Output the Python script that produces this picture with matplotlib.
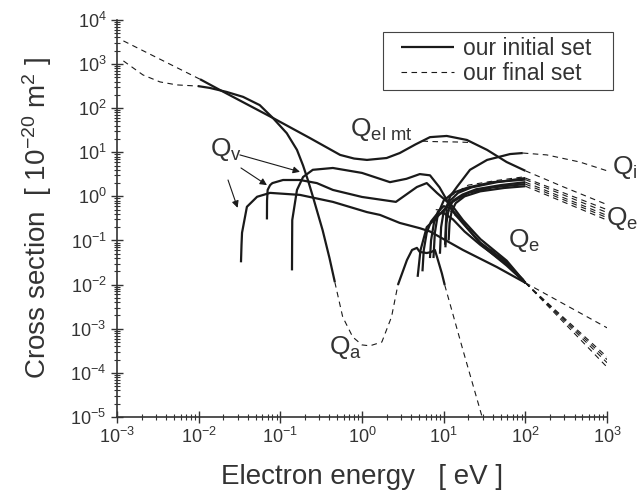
import matplotlib
matplotlib.use('Agg')
import matplotlib.pyplot as plt
from matplotlib.patches import Rectangle

plt.rcParams['font.family'] = ['Liberation Sans', 'DejaVu Sans']
plt.rcParams['mathtext.fontset'] = 'custom'
plt.rcParams['mathtext.rm'] = 'Liberation Sans'
plt.rcParams['mathtext.it'] = 'Liberation Sans:italic'
plt.rcParams['mathtext.bf'] = 'Liberation Sans:bold'

TXT = '#333333'
LC = '#1a1a1a'

# ---- data (energy in eV, cross section in 1e-20 m^2) ----
# elastic momentum transfer
qm_x = [0.0104, 0.018, 0.081, 0.23, 0.54, 0.8, 1.15, 2.0, 2.9, 4.5, 6.8, 10.9, 19.2, 34, 59, 100]
qm_y = [452, 261, 60, 21, 8.7, 7.2, 6.7, 7.4, 9.6, 15, 22, 23.4, 19, 11.3, 6.0, 3.8]
qm_lo_x = [0.0012, 0.0104]
qm_lo_y = [3340, 452]
qm_mid_x = [5.5, 7, 9, 12, 16, 20, 23]
qm_mid_y = [17.9, 17.5, 17.3, 17.2, 17.0, 16.7, 16.1]
qm_hi_x = [100, 290, 1000]
qm_hi_y = [3.8, 1.65, 0.65]

# attachment
qa_x = [0.0098, 0.0137, 0.022, 0.035, 0.056, 0.081, 0.12, 0.16, 0.19, 0.22, 0.25, 0.33, 0.40, 0.465]
qa_y = [316, 287, 233, 180, 117, 60, 27, 11.3, 5.0, 2.2, 1.0, 0.17, 0.04, 0.0114]
qa2_x = [2.75, 3.55, 4.1, 4.7, 5.1, 6.2, 7.1, 7.8, 8.3, 9.5, 10.3]
qa2_y = [0.0098, 0.036, 0.061, 0.068, 0.055, 0.052, 0.055, 0.061, 0.042, 0.018, 0.0098]
qa_lo_x = [0.0012, 0.00208, 0.00336, 0.0054, 0.0098]
qa_lo_y = [1175, 566, 393, 336, 316]
qa_mid_x = [0.465, 0.58, 0.77, 1.0, 1.25, 1.75, 2.3, 2.75]
qa_mid_y = [0.0114, 1.86e-3, 6.5e-4, 4.3e-4, 4.1e-4, 5e-4, 1.86e-3, 0.0098]
qa_hi_x = [10.3, 17.2, 32]
qa_hi_y = [0.0098, 3.3e-4, 6e-6]

# vibrational excitation
qv1_x = [0.033, 0.0335, 0.034, 0.039, 0.052, 0.075, 0.174, 0.44, 1.15, 1.66, 2.9, 5.1, 6.8, 17.2, 44.8, 100]
qv1_y = [0.032, 0.08, 0.15, 0.58, 0.98, 1.2, 1.08, 0.75, 0.44, 0.38, 0.25, 0.19, 0.16, 0.061, 0.025, 0.011]
qv2_x = [0.0686, 0.0688, 0.070, 0.075, 0.08, 0.108, 0.174, 0.28, 0.44, 1.0, 2.6, 4.7, 6.2, 8.3, 13, 17.2, 27.7, 59, 100]
qv2_y = [0.3, 0.8, 1.4, 1.8, 2.0, 2.35, 2.35, 2.0, 1.4, 0.97, 0.75, 1.63, 2.0, 1.19, 0.58, 0.29, 0.11, 0.035, 0.011]
qv3_x = [0.139, 0.1395, 0.14, 0.16, 0.19, 0.25, 0.44, 1.0, 2.2, 3.5, 5.1, 6.8, 8.9, 10.9, 13, 17, 28, 59, 100]
qv3_y = [0.021, 0.1, 0.29, 1.4, 2.75, 4.0, 4.4, 3.4, 2.1, 2.5, 3.2, 3.0, 1.6, 0.83, 0.45, 0.25, 0.09, 0.032, 0.011]

# electronic excitation, peaked
qe1_x = [5.5, 5.7, 6.2, 7.0, 8.3, 10.0, 13, 18, 28, 59, 100]
qe1_y = [0.02, 0.06, 0.15, 0.27, 0.4, 0.42, 0.3, 0.16, 0.08, 0.029, 0.011]
qe2_x = [6.8, 7.0, 7.6, 8.5, 10, 12, 15, 20, 30, 59, 100]
qe2_y = [0.04, 0.1, 0.25, 0.45, 0.6, 0.55, 0.35, 0.18, 0.075, 0.027, 0.011]

# electronic excitation, rising
qr1_x = [4.8, 5.2, 6.2, 8.3, 12, 20, 40, 100]
qr1_y = [0.015, 0.06, 0.2, 0.34, 0.7, 1.2, 1.6, 1.9]
qr2_x = [7.5, 7.8, 8.5, 10, 13, 20, 40, 100]
qr2_y = [0.04, 0.15, 0.4, 0.8, 1.2, 1.6, 2.1, 2.4]
qr3_x = [9.0, 9.3, 10, 12, 15, 22, 45, 100]
qr3_y = [0.05, 0.2, 0.45, 0.8, 1.2, 1.6, 2.1, 2.6]
qr4_x = [10.5, 10.8, 11.5, 13, 17, 25, 50, 100]
qr4_y = [0.07, 0.25, 0.5, 0.8, 1.1, 1.45, 1.8, 2.1]
qr5_x = [11.5, 11.8, 12.5, 14, 18, 28, 55, 100]
qr5_y = [0.1, 0.25, 0.45, 0.7, 1.0, 1.3, 1.55, 1.7]
qr_end = [1.9, 2.4, 2.6, 2.1, 1.7]
qr_far = [0.33, 0.43, 0.5, 0.37, 0.29]
qr_fin_x = [12, 20, 45, 100]
qr_fin_y = [1.0, 1.8, 2.3, 2.8]
qd_fin_x = [8, 12, 20, 40, 100]
qd_fin_y = [0.5, 0.47, 0.2, 0.06, 0.012]

# ionization
qi_x = [10.4, 10.6, 10.9, 12, 14.5, 21, 34, 65, 93]
qi_y = [0.08, 0.2, 0.58, 1.0, 1.63, 4.0, 6.7, 9.1, 9.6]
qi_hi_x = [93, 183, 465, 1000]
qi_hi_y = [9.6, 8.7, 6.0, 3.8]

# tails of the converging curves at 1000 eV
tail_conv = 0.011
tail_far = [1.05e-3, 2.3e-4, 1.35e-4, 1.7e-4, 2.0e-4]

fig = plt.figure(figsize=(6.39, 4.97), dpi=100)
ax = fig.add_axes([0.183, 0.161, 0.767, 0.799])

solid = dict(color=LC, lw=1.6, solid_capstyle='butt', solid_joinstyle='round')
dash = dict(color=LC, lw=0.8, dashes=(5, 4))

for x, y in [(qm_x, qm_y), (qa_x, qa_y), (qa2_x, qa2_y), (qv1_x, qv1_y),
             (qv2_x, qv2_y), (qv3_x, qv3_y), (qe1_x, qe1_y), (qe2_x, qe2_y),
             (qr1_x, qr1_y), (qr2_x, qr2_y), (qr3_x, qr3_y), (qr4_x, qr4_y),
             (qr5_x, qr5_y), (qi_x, qi_y)]:
    ax.plot(x, y, **solid)

for x, y in [(qm_lo_x, qm_lo_y), (qm_mid_x, qm_mid_y), (qm_hi_x, qm_hi_y),
             (qa_lo_x, qa_lo_y), (qa_mid_x, qa_mid_y), (qa_hi_x, qa_hi_y),
             (qi_hi_x, qi_hi_y), (qr_fin_x, qr_fin_y), (qd_fin_x, qd_fin_y)]:
    ax.plot(x, y, **dash)

for a, b in zip(qr_end, qr_far):
    ax.plot([100, 1000], [a, b], **dash)
for b in tail_far:
    ax.plot([100, 1000], [tail_conv, b], **dash)

# legend handles
ax.plot([], [], label='our initial set', **solid)
ax.plot([], [], label='our final set', **dash)

ax.set_xscale('log')
ax.set_yscale('log')
ax.set_xlim(1e-3, 1e3)
ax.set_ylim(1e-5, 1e4)

for s in ['top', 'right']:
    ax.spines[s].set_visible(False)
for s in ['left', 'bottom']:
    ax.spines[s].set_linewidth(1.2)
    ax.spines[s].set_color(TXT)

ax.tick_params(axis='both', which='major', direction='inout', length=8, width=1.0,
               labelsize=13, labelcolor=TXT, color=TXT)
ax.tick_params(axis='both', which='minor', direction='inout', length=4, width=0.8, color=TXT)
ax.yaxis.set_major_locator(matplotlib.ticker.LogLocator(base=10, numticks=20))
ax.yaxis.set_minor_locator(matplotlib.ticker.LogLocator(base=10, subs=range(2, 10), numticks=20))
ax.xaxis.set_minor_locator(matplotlib.ticker.LogLocator(base=10, subs=range(2, 10), numticks=20))

ax.set_xlabel('Electron energy   [ eV ]', fontsize=20, color=TXT, labelpad=12)
ax.set_ylabel(r'Cross section  [ 10$^{-20}$ m$^{2}$ ]', fontsize=20, color=TXT, labelpad=12)

# legend box drawn separately so its padding can match the original
box = Rectangle((383 / 639, 1 - 90 / 497), 230 / 639, 58 / 497, transform=fig.transFigure,
                facecolor='none', edgecolor='#444444', lw=0.8, zorder=5)
fig.add_artist(box)
leg = ax.legend(loc='upper left', bbox_to_anchor=(401 / 639, 1 - 37 / 497),
                bbox_transform=fig.transFigure, fontsize=16.5, handlelength=2.3,
                frameon=False, borderpad=0, labelspacing=0.1, handletextpad=0.4,
                borderaxespad=0)
for t in leg.get_texts():
    t.set_color(TXT)

lab = dict(fontsize=19, color=TXT, va='center', ha='left', clip_on=False)
ax.text(0.72, 32, r'Q$_{\mathregular{el\ mt}}$', **lab)
ax.text(0.0137, 11.3, r'Q$_{\mathregular{v}}$', **lab)
ax.text(1150, 4.4, r'Q$_{\mathregular{i}}$', **lab)
ax.text(960, 0.32, r'Q$_{\mathregular{e}}$', **lab)
ax.text(61, 0.098, r'Q$_{\mathregular{e}}$', **lab)
ax.text(0.40, 3.85e-4, r'Q$_{\mathregular{a}}$', **lab)

arr = dict(arrowstyle='-|>', color=LC, lw=0.8, mutation_scale=10, shrinkA=0, shrinkB=0)
ax.annotate('', xy=(0.174, 3.6), xytext=(0.032, 8.7), arrowprops=arr)
ax.annotate('', xy=(0.0686, 1.8), xytext=(0.033, 4.4), arrowprops=arr)
ax.annotate('', xy=(0.030, 0.55), xytext=(0.0229, 2.35), arrowprops=arr)

fig.savefig('out.png', dpi=100)
